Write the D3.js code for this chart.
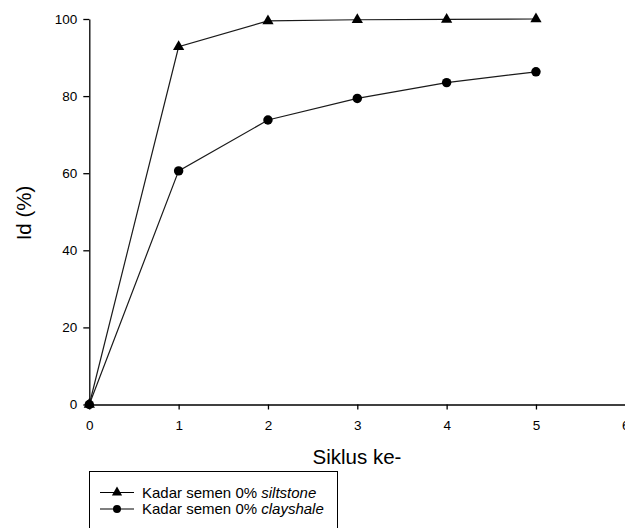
<!DOCTYPE html>
<html><head><meta charset="utf-8">
<script src="https://cdn.jsdelivr.net/npm/d3@7"></script>
<style>body{margin:0;background:#fff;}svg{display:block;font-family:"Liberation Sans",Arial,sans-serif;}</style>
</head><body>
<svg id="c" width="625" height="528"></svg>
<script>
const cycles = [0, 1, 2, 3, 4, 5];
const siltstone = [0, 92.8, 99.5, 99.8, 99.9, 100];
const clayshale = [0, 60.6, 73.8, 79.4, 83.5, 86.3];
const xTicks = [0, 1, 2, 3, 4, 5, 6];
const yTicks = [0, 20, 40, 60, 80, 100];
const seriesNames = ["Kadar semen 0% ", "Kadar semen 0% "];
const seriesItalic = ["siltstone", "clayshale"];

const svg = d3.select("#c");
const x = d3.scaleLinear().domain([0, 6]).range([89.3, 625.3]);
const y = d3.scaleLinear().domain([0, 100]).range([404.5, 19]);

const xAxis = svg.append("g").attr("transform", `translate(0,${y(0)})`)
  .call(d3.axisBottom(x).tickValues(xTicks).tickFormat(d3.format("d")).tickSize(5).tickPadding(11).tickSizeOuter(0));
const yAxis = svg.append("g").attr("transform", `translate(${x(0)},0)`)
  .call(d3.axisLeft(y).tickValues(yTicks).tickFormat(d3.format("d")).tickSize(6).tickPadding(6).tickSizeOuter(0));
[xAxis, yAxis].forEach(a => {
  a.selectAll("path,line").attr("stroke", "#000").attr("stroke-width", 1.3);
  a.selectAll("text").attr("font-size", 13.5).attr("fill", "#000")
   .attr("font-family", '"Liberation Sans",Arial,sans-serif');
});

svg.append("text").attr("x", 357).attr("y", 464).attr("text-anchor", "middle")
  .attr("font-size", 20.5).text("Siklus ke-");
svg.append("text").attr("transform", "translate(31,213) rotate(-90)").attr("text-anchor", "middle")
  .attr("font-size", 20.5).text("Id (%)");

const line = d3.line().x((d, i) => x(cycles[i])).y(d => y(d));
const tri = d3.symbol().type(d3.symbolTriangle).size(55);
const circ = d3.symbol().type(d3.symbolCircle).size(70);

[[siltstone, tri], [clayshale, circ]].forEach(([data, sym]) => {
  svg.append("path").datum(data).attr("d", line).attr("fill", "none")
    .attr("stroke", "#1a1a1a").attr("stroke-width", 1.2);
  svg.selectAll(null).data(data).enter().append("path")
    .attr("d", sym).attr("fill", "#000")
    .attr("transform", (d, i) => `translate(${x(cycles[i])},${y(d)})`);
});

// legend
const lg = svg.append("g");
lg.append("rect").attr("x", 89.5).attr("y", 471.5).attr("width", 248).attr("height", 70)
  .attr("fill", "#fff").attr("stroke", "#000").attr("stroke-width", 1);
const triL = d3.symbol().type(d3.symbolTriangle).size(45);
const circL = d3.symbol().type(d3.symbolCircle).size(50);
[triL, circL].forEach((sym, i) => {
  const yy = 492.5 + i * 16.5;
  lg.append("line").attr("x1", 100).attr("x2", 134).attr("y1", yy).attr("y2", yy)
    .attr("stroke", "#000").attr("stroke-width", 1.2);
  lg.append("path").attr("d", sym).attr("fill", "#000").attr("transform", `translate(117,${yy})`);
  const t = lg.append("text").attr("x", 142).attr("y", yy + 5).attr("font-size", 15);
  t.append("tspan").text(seriesNames[i]);
  t.append("tspan").attr("font-style", "italic").text(seriesItalic[i]);
});
</script>
</body></html>
